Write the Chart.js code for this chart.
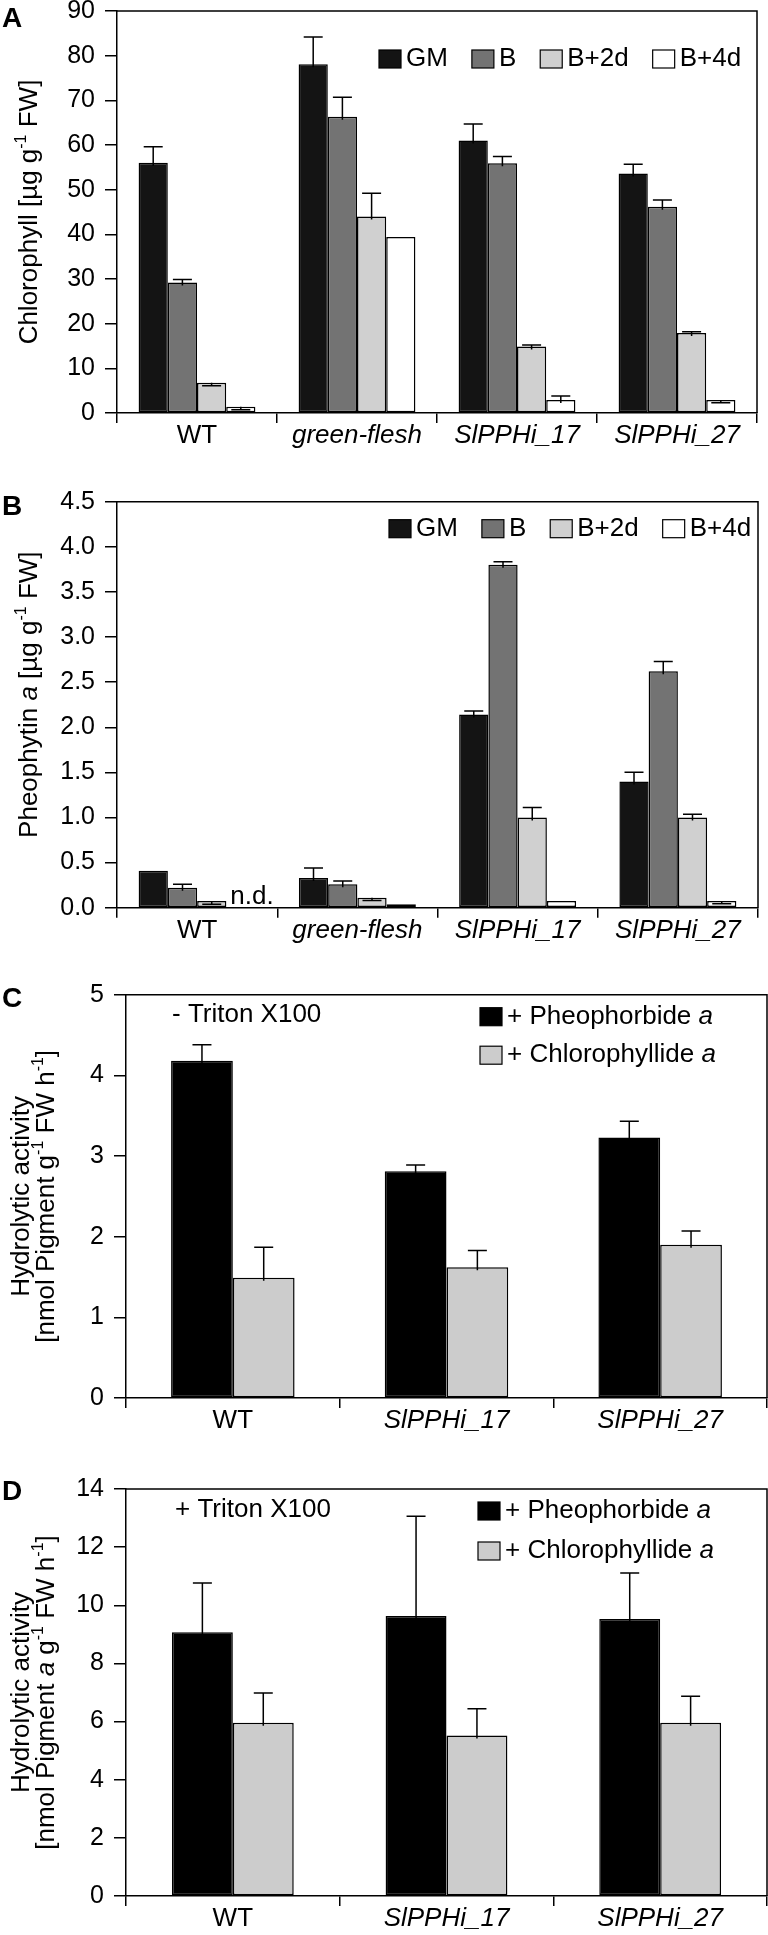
<!DOCTYPE html>
<html>
<head>
<meta charset="utf-8">
<script src="https://cdn.jsdelivr.net/npm/chart.js@4.4.0/dist/chart.umd.min.js"></script>
<style>
  html, body { margin: 0; padding: 0; background: #fff; }
  body { width: 768px; height: 1935px; position: relative; overflow: hidden; }
  .panel { position: absolute; left: 0; width: 768px; }
</style>
</head>
<body>
<div class="panel" style="top:-20px;height:490px"><canvas id="chartA"></canvas></div>
<div class="panel" style="top:470px;height:480px"><canvas id="chartB"></canvas></div>
<div class="panel" style="top:950px;height:490px"><canvas id="chartC"></canvas></div>
<div class="panel" style="top:1440px;height:495px"><canvas id="chartD"></canvas></div>
<script>
const FONT = '"Liberation Sans", Arial, Helvetica, sans-serif';

// panels A and B: genotypes x ripening stage
const linesAB = ["WT", "green-flesh", "SlPPHi_17", "SlPPHi_27"];
const stages = ["GM", "B", "B+2d", "B+4d"];
const stageColors = ["#141414", "#737373", "#d0d0d0", "#ffffff"];

// A: chlorophyll (µg/g FW); sd < 0 means the whisker sits inside the bar
const chlGM = [56, 78.1, 61, 53.6];
const chlGMsd = [3.6, 6.1, 3.7, 2.1];
const chlB = [29.2, 66.3, 55.9, 46.2];
const chlBsd = [0.7, 4.4, 1.5, 1.5];
const chl2d = [6.8, 44, 14.9, 17.9];
const chl2dsd = [-0.7, 5.2, 0.3, 0.3];
const chl4d = [1.4, 39.4, 2.9, 2.9];
const chl4dsd = [-0.7, 0, 0.9, -0.6];

// B: pheophytin a (µg/g FW), null = not detected
const pheGM = [0.41, 0.33, 2.14, 1.40];
const pheGMsd = [0, 0.11, 0.04, 0.10];
const pheB = [0.22, 0.26, 3.80, 2.62];
const pheBsd = [0.04, 0.035, 0.035, 0.11];
const phe2d = [0.074, 0.11, 1.0, 1.0];
const phe2dsd = [-0.035, -0.03, 0.11, 0.035];
const phe4d = [null, 0.037, 0.074, 0.074];
const phe4dsd = [0, 0, 0, -0.03];

// C and D: hydrolytic activity
const linesCD = ["WT", "SlPPHi_17", "SlPPHi_27"];
const substrates = ["+ Pheophorbide *a*", "+ Chlorophyllide *a*"];
const substrateColors = ["#000000", "#cccccc"];
const noTritonPheide = [4.18, 2.81, 3.23];
const noTritonPheideSd = [0.20, 0.08, 0.20];
const noTritonChlide = [1.49, 1.62, 1.90];
const noTritonChlideSd = [0.38, 0.21, 0.17];
const tritonPheide = [9.07, 9.63, 9.53];
const tritonPheideSd = [1.70, 3.43, 1.58];
const tritonChlide = [5.96, 5.52, 5.96];
const tritonChlideSd = [1.02, 0.92, 0.91];

// *x* = italic, ^x^ = superscript
function richParts(str) {
  return str.split(/(\*[^*]+\*|\^[^^]+\^)/).filter(s => s).map(s => {
    if (s[0] === '*') return { text: s.slice(1, -1), italic: true };
    if (s[0] === '^') return { text: s.slice(1, -1), sup: true };
    return { text: s };
  });
}
function partFont(p, size) {
  const sz = p.sup ? Math.round(size * 0.62) : size;
  return (p.italic ? 'italic ' : '') + sz + 'px ' + FONT;
}
function richWidth(ctx, str, size) {
  let w = 0;
  richParts(str).forEach(p => { ctx.font = partFont(p, size); w += ctx.measureText(p.text).width; });
  return w;
}
function drawRich(ctx, str, x, y, size) {
  ctx.textBaseline = 'middle';
  ctx.textAlign = 'left';
  richParts(str).forEach(p => {
    ctx.font = partFont(p, size);
    ctx.fillText(p.text, x, p.sup ? y - size * 0.33 : y);
    x += ctx.measureText(p.text).width;
  });
}

const errorBars = {
  id: 'errorBars',
  afterDatasetsDraw(chart) {
    const ctx = chart.ctx, ys = chart.scales.y;
    ctx.save();
    ctx.strokeStyle = '#000';
    ctx.lineWidth = 1.5;
    chart.data.datasets.forEach((ds, di) => {
      if (!ds.errors) return;
      chart.getDatasetMeta(di).data.forEach((bar, i) => {
        const v = ds.data[i], e = ds.errors[i];
        if (v == null || !e) return;
        const yEnd = ys.getPixelForValue(v + e);
        const yStart = e > 0 ? bar.y + 3 : bar.y;
        ctx.beginPath();
        ctx.moveTo(bar.x, yStart);
        ctx.lineTo(bar.x, yEnd);
        ctx.moveTo(bar.x - 9.5, yEnd);
        ctx.lineTo(bar.x + 9.5, yEnd);
        ctx.stroke();
      });
    });
    ctx.restore();
  }
};

const decor = {
  id: 'decor',
  afterDraw(chart, args, o) {
    const ctx = chart.ctx, a = chart.chartArea;
    ctx.save();
    // frame top + right
    ctx.strokeStyle = '#000';
    ctx.lineWidth = 1.5;
    ctx.beginPath();
    ctx.moveTo(a.left, a.top);
    ctx.lineTo(a.right, a.top);
    ctx.lineTo(a.right, a.bottom);
    ctx.stroke();
    // panel letter
    ctx.fillStyle = '#000';
    ctx.font = 'bold 28px ' + FONT;
    ctx.textBaseline = 'alphabetic';
    ctx.textAlign = 'left';
    ctx.fillText(o.letter, 2, a.top + o.letterDy);
    // y title
    const cy = (a.top + a.bottom) / 2 + (o.titleDy || 0);
    o.title.forEach((line, k) => {
      ctx.save();
      ctx.translate(o.titleX[k], cy);
      ctx.rotate(-Math.PI / 2);
      const w = richWidth(ctx, line, 26);
      drawRich(ctx, line, -w / 2, 0, 26);
      ctx.restore();
    });
    // legend
    const lg = o.legend;
    let x = lg.x, y = a.top + lg.dy;
    chart.data.datasets.forEach(ds => {
      ctx.fillStyle = ds.backgroundColor;
      ctx.fillRect(x, y - 9, 22, 18);
      ctx.lineWidth = 1.2;
      ctx.strokeRect(x, y - 9, 22, 18);
      ctx.fillStyle = '#000';
      drawRich(ctx, ds.label, x + 27, y, 26);
      if (lg.column) y += lg.rowGap;
      else x += 27 + richWidth(ctx, ds.label, 26) + lg.gap;
    });
    // note text
    if (o.note) drawRich(ctx, o.note, o.noteX, a.top + o.noteDy, 26);
    // not detected marks
    if (o.nd) {
      chart.data.datasets.forEach((ds, di) => {
        chart.getDatasetMeta(di).data.forEach((bar, i) => {
          if (ds.data[i] !== null) return;
          ctx.font = '26px ' + FONT;
          ctx.textBaseline = 'alphabetic';
          ctx.fillText('n.d.', bar.x - bar.width / 2 + 4, chart.scales.y.getPixelForValue(0) - 4);
        });
      });
    }
    ctx.restore();
  }
};

function makePanel(id, cfg) {
  const canvas = document.getElementById(id);
  const H = canvas.parentNode.clientHeight;
  return new Chart(canvas, {
    type: 'bar',
    data: { labels: cfg.labels, datasets: cfg.datasets },
    options: {
      responsive: true,
      maintainAspectRatio: false,
      animation: false,
      layout: { padding: { top: cfg.area.top, right: 768 - cfg.area.right, left: 0, bottom: 0 } },
      plugins: { legend: { display: false }, tooltip: { enabled: false }, decor: cfg.decor },
      scales: {
        x: {
          grid: { offset: true, drawOnChartArea: false, tickLength: 10, color: '#000', lineWidth: 1.5 },
          border: { color: '#000', width: 1.5 },
          ticks: {
            color: '#000', padding: 0, maxRotation: 0, autoSkip: false,
            font: c => ({ family: FONT, size: 26, lineHeight: 1, style: cfg.labels[c.index] === 'WT' ? 'normal' : 'italic' })
          },
          afterFit: s => { s.height = H - cfg.area.bottom; }
        },
        y: {
          min: 0, max: cfg.yMax,
          grid: { drawOnChartArea: false, tickLength: 12, color: '#000', lineWidth: 1.5 },
          border: { color: '#000', width: 1.5 },
          ticks: {
            stepSize: cfg.step, padding: 10, color: '#000',
            font: { family: FONT, size: 25 },
            callback: v => v.toFixed(cfg.decimals)
          },
          afterFit: s => { s.width = cfg.area.left; }
        }
      }
    },
    plugins: [errorBars, decor]
  });
}

function barSet(label, color, data, errors, pct) {
  return {
    label, data, errors,
    backgroundColor: color, borderColor: '#000', borderWidth: 1.5, borderSkipped: false,
    categoryPercentage: pct, barPercentage: 1
  };
}

makePanel('chartA', {
  labels: linesAB, yMax: 90, step: 10, decimals: 0,
  area: { left: 117, right: 757, top: 31, bottom: 433 },
  datasets: [
    barSet(stages[0], stageColors[0], chlGM, chlGMsd, 0.73),
    barSet(stages[1], stageColors[1], chlB, chlBsd, 0.73),
    barSet(stages[2], stageColors[2], chl2d, chl2dsd, 0.73),
    barSet(stages[3], stageColors[3], chl4d, chl4dsd, 0.73)
  ],
  decor: {
    letter: 'A', letterDy: 16,
    title: ['Chlorophyll [µg g^-1^ FW]'], titleX: [30],
    legend: { x: 379, dy: 48, gap: 24 }
  }
});

makePanel('chartB', {
  labels: linesAB, yMax: 4.5, step: 0.5, decimals: 1,
  area: { left: 117, right: 758, top: 31.7, bottom: 437.7 },
  datasets: [
    barSet(stages[0], stageColors[0], pheGM, pheGMsd, 0.73),
    barSet(stages[1], stageColors[1], pheB, pheBsd, 0.73),
    barSet(stages[2], stageColors[2], phe2d, phe2dsd, 0.73),
    barSet(stages[3], stageColors[3], phe4d, phe4dsd, 0.73)
  ],
  decor: {
    letter: 'B', letterDy: 13,
    title: ['Pheophytin *a* [µg g^-1^ FW]'], titleX: [30], titleDy: -10,
    legend: { x: 389, dy: 27, gap: 24 },
    nd: true
  }
});

makePanel('chartC', {
  labels: linesCD, yMax: 5, step: 1, decimals: 0,
  area: { left: 126, right: 767, top: 44.7, bottom: 448 },
  datasets: [
    barSet(substrates[0], substrateColors[0], noTritonPheide, noTritonPheideSd, 0.578),
    barSet(substrates[1], substrateColors[1], noTritonChlide, noTritonChlideSd, 0.578)
  ],
  decor: {
    letter: 'C', letterDy: 12,
    title: ['Hydrolytic activity', '[nmol Pigment g^-1^ FW h^-1^]'], titleX: [22, 47],
    legend: { x: 480, dy: 22, column: true, rowGap: 38.5 },
    note: '- Triton X100', noteX: 172, noteDy: 20
  }
});

makePanel('chartD', {
  labels: linesCD, yMax: 14, step: 2, decimals: 0,
  area: { left: 126, right: 767, top: 49, bottom: 456 },
  datasets: [
    barSet(substrates[0], substrateColors[0], tritonPheide, tritonPheideSd, 0.57),
    barSet(substrates[1], substrateColors[1], tritonChlide, tritonChlideSd, 0.57)
  ],
  decor: {
    letter: 'D', letterDy: 11,
    title: ['Hydrolytic activity', '[nmol Pigment *a* g^-1^ FW h^-1^]'], titleX: [22, 47],
    legend: { x: 478, dy: 22, column: true, rowGap: 40 },
    note: '+ Triton X100', noteX: 175, noteDy: 21
  }
});
</script>
</body>
</html>
